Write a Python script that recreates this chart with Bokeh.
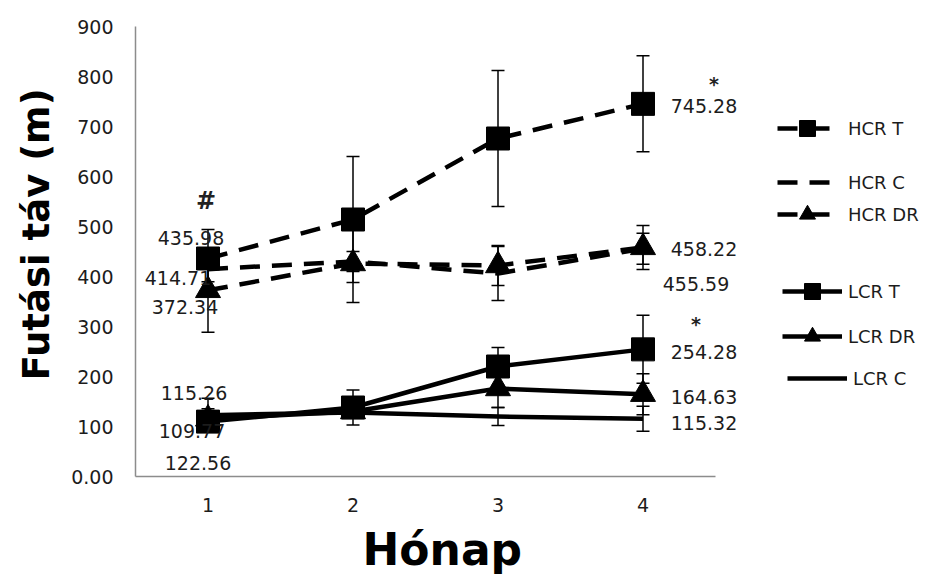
from bokeh.plotting import figure
from bokeh.models import (ColumnDataSource, Whisker, TeeHead, Legend, LegendItem,
                          FixedTicker, Range1d, Title)
from bokeh.core.properties import value
from bokeh.embed import file_html
from bokeh.resources import INLINE

# ---------------- data ----------------
months = [1, 2, 3, 4]
y_ticks = [0, 100, 200, 300, 400, 500, 600, 700, 800, 900]

hcr_t = [435.98, 514, 676, 745.28]
hcr_c = [414.71, 430, 406, 455.59]
hcr_dr = [372.34, 426, 422, 458.22]
lcr_t = [109.77, 138, 220, 254.28]
lcr_dr = [115.26, 130, 176, 164.63]
lcr_c = [122.56, 128, 120, 115.32]

hcr_t_err = [58, 126, 136, 96]
hcr_c_err = [25, 20, 54, 31]
hcr_dr_err = [84, 78, 40, 44]
lcr_t_err = [20, 35, 38, 68]
lcr_dr_err = [20, 10, 38, 41]
lcr_c_err = [34, 10, 18, 25]

series_names = ["HCR T", "HCR C", "HCR DR", "LCR T", "LCR DR", "LCR C"]

# ---------------- layout ----------------
FONT = "DejaVu Sans"
TXT = "#1c1c1c"
W, H = 927, 584
LEFT, TOP, BOTTOM = 135, 26, 108
AXIS_PX = 580                      # pixel length of the visible x axis (0.5 .. 4.5)
frame_w = W - LEFT
x_end = 0.5 + (months[-1] + 0.5 - 0.5) * frame_w / AXIS_PX

p = figure(width=W, height=H, output_backend="svg", toolbar_location=None,
           x_range=Range1d(0.5, x_end), y_range=Range1d(0, 900),
           min_border_left=LEFT, min_border_right=0,
           min_border_top=TOP, min_border_bottom=BOTTOM)
p.outline_line_color = None
p.xgrid.visible = False
p.ygrid.visible = False
p.background_fill_color = "white"
p.border_fill_color = "white"

for ax in (p.xaxis[0], p.yaxis[0]):
    ax.axis_line_color = "#8c8c8c"
    ax.axis_line_width = 1.5
    ax.major_tick_line_color = None
    ax.minor_tick_line_color = None
    ax.major_tick_out = 0
    ax.major_tick_in = 0
    ax.major_label_text_font = FONT
    ax.major_label_text_font_size = "19px"
    ax.major_label_text_color = TXT

p.xaxis.bounds = (0.5, months[-1] + 0.5)
p.xaxis.ticker = FixedTicker(ticks=months)
p.yaxis.ticker = FixedTicker(ticks=y_ticks)
p.yaxis.major_label_overrides = {0: "0.00"}
p.yaxis.major_label_standoff = 22
p.xaxis.major_label_standoff = 21

# axis titles
p.add_layout(Title(text="Hónap", align="left", offset=227, standoff=15,
                   text_font=FONT, text_font_style="bold",
                   text_font_size="44px", text_color="black"), "below")
p.add_layout(Title(text="Futási táv (m)", align="left", offset=96, standoff=21,
                   text_font=FONT, text_font_style="bold",
                   text_font_size="37px", text_color="black"), "left")

# ---------------- series ----------------
def add_series(vals, errs, dash, marker):
    src = ColumnDataSource(dict(x=months, y=vals,
                                upper=[v + e for v, e in zip(vals, errs)],
                                lower=[v - e for v, e in zip(vals, errs)]))
    rs = [p.line("x", "y", source=src, line_color="black", line_width=4.5,
                 line_dash=dash, line_join="round")]
    if marker == "square":
        rs.append(p.scatter("x", "y", source=src, marker="square", size=23,
                            fill_color="black", line_color="black"))
    elif marker == "triangle":
        rs.append(p.scatter("x", "y", source=src, marker="triangle", size=25,
                            fill_color="black", line_color="black"))
    w = Whisker(source=src, base="x", upper="upper", lower="lower",
                line_color="black", line_width=1.5,
                upper_head=TeeHead(size=13, line_color="black", line_width=1.5),
                lower_head=TeeHead(size=13, line_color="black", line_width=1.5))
    p.add_layout(w)
    return rs

DASH = "20 12"
r_hcr_c = add_series(hcr_c, hcr_c_err, DASH, None)
r_hcr_dr = add_series(hcr_dr, hcr_dr_err, DASH, "triangle")
r_hcr_t = add_series(hcr_t, hcr_t_err, DASH, "square")
r_lcr_c = add_series(lcr_c, lcr_c_err, "solid", None)
r_lcr_dr = add_series(lcr_dr, lcr_dr_err, "solid", "triangle")
r_lcr_t = add_series(lcr_t, lcr_t_err, "solid", "square")

# ---------------- data labels (first & last month) ----------------
first_vals = [hcr_t[0], hcr_c[0], hcr_dr[0], lcr_dr[0], lcr_t[0], lcr_c[0]]
first_dx = [-17, -30, -23, -14, -16, -10]
first_dy = [-21, 9, 17, -26, 9, 48]
last_vals = [hcr_t[3], hcr_dr[3], hcr_c[3], lcr_t[3], lcr_dr[3], lcr_c[3]]
last_dx = [61, 61, 53, 61, 61, 61]
last_dy = [2, 2, 35, 3, 3, 4]

lab_src = ColumnDataSource(dict(
    x=[months[0]] * 6 + [months[3]] * 6,
    y=first_vals + last_vals,
    t=[f"{v:.2f}" for v in first_vals + last_vals],
    dx=first_dx + last_dx,
    dy=first_dy + last_dy,
))
p.text("x", "y", text="t", source=lab_src, x_offset="dx", y_offset="dy",
       text_align="center", text_baseline="middle",
       text_font=value(FONT), text_font_size="19px", text_color=TXT)

# significance markers
sig_src = ColumnDataSource(dict(
    x=[months[0], months[3], months[3]],
    y=[hcr_t[0], hcr_t[3], lcr_t[3]],
    t=["#", "*", "*"],
    dx=[-2, 71, 53],
    dy=[-58, -20, -25],
    fs=["24px", "19px", "19px"],
))
p.text("x", "y", text="t", source=sig_src, x_offset="dx", y_offset="dy",
       text_align="center", text_baseline="middle", text_font_size="fs",
       text_font=value(FONT), text_font_style="bold", text_color="#222222")

# ---------------- legends ----------------
def add_legend(label, renderers, vx, vy, standoff):
    lg = Legend(items=[LegendItem(label=label, renderers=renderers)],
                location=(vx, vy), padding=0, margin=0, spacing=0,
                glyph_width=60, glyph_height=40, label_standoff=standoff,
                border_line_color=None, background_fill_alpha=0,
                label_text_font=FONT, label_text_font_size="18px",
                label_text_color=TXT)
    p.add_layout(lg)

add_legend(series_names[0], r_hcr_t, 642, 328, 11)
add_legend(series_names[1], r_hcr_c, 642, 274, 11)
add_legend(series_names[2], r_hcr_dr, 642, 242, 11)
add_legend(series_names[3], r_lcr_t, 647, 165, 6)
add_legend(series_names[4], r_lcr_dr, 647, 120, 6)
add_legend(series_names[5], r_lcr_c, 652, 78, 6)

open("out.html", "w").write(file_html(p, INLINE))
